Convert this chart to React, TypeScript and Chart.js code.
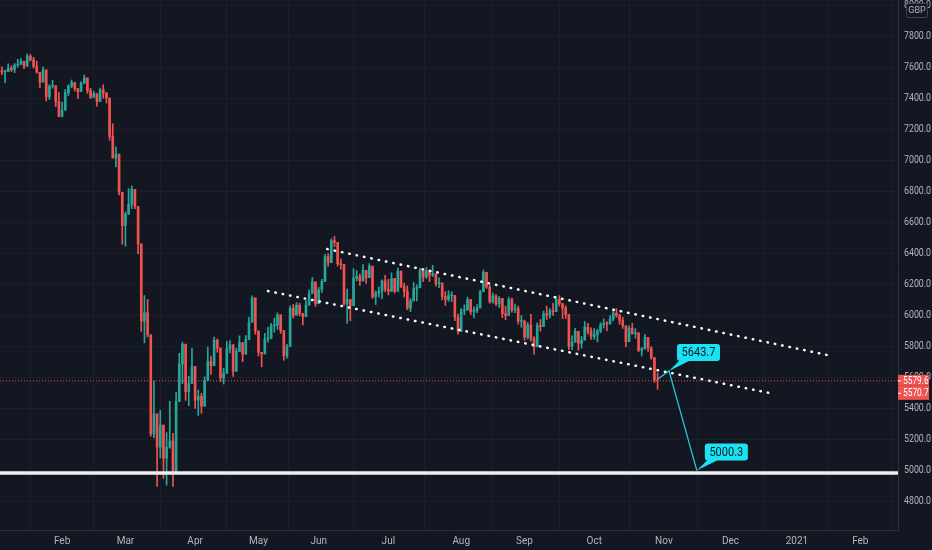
import * as React from 'react';
import { Chart, registerables } from 'chart.js';

Chart.register(...registerables);

// FTSE 100 daily bars from 2 Jan 2020: [open, high, low, close]
const candles: number[][] = [
  [7542, 7623, 7542, 7604], [7604, 7625, 7556, 7622], [7622, 7622, 7531, 7575], [7575, 7605, 7555, 7573],
  [7573, 7584, 7503, 7575], [7575, 7625, 7575, 7598], [7598, 7612, 7575, 7588], [7588, 7627, 7568, 7617],
  [7617, 7654, 7604, 7622], [7622, 7659, 7620, 7642], [7642, 7642, 7594, 7610], [7610, 7689, 7610, 7675],
  [7675, 7685, 7643, 7651], [7651, 7667, 7597, 7610], [7610, 7642, 7565, 7571], [7571, 7571, 7469, 7507],
  [7507, 7604, 7507, 7586], [7586, 7586, 7385, 7412], [7412, 7490, 7395, 7481], [7481, 7519, 7468, 7484],
  [7484, 7484, 7349, 7381], [7381, 7440, 7282, 7286],
  // Feb
  [7286, 7379, 7283, 7326], [7326, 7460, 7326, 7439], [7439, 7490, 7420, 7482], [7482, 7521, 7471, 7504],
  [7504, 7504, 7449, 7466], [7466, 7466, 7402, 7446], [7446, 7511, 7446, 7500], [7500, 7554, 7496, 7534],
  [7534, 7534, 7434, 7452], [7452, 7467, 7401, 7409], [7409, 7448, 7409, 7433], [7433, 7433, 7352, 7382],
  [7382, 7468, 7382, 7457], [7457, 7490, 7403, 7437], [7437, 7440, 7372, 7404], [7404, 7404, 7132, 7157],
  [7157, 7238, 7016, 7018], [7018, 7090, 6960, 7042], [7042, 7042, 6780, 6796], [6796, 6796, 6460, 6581],
  // Mar
  [6581, 6670, 6449, 6654], [6654, 6820, 6654, 6718], [6718, 6837, 6690, 6815], [6815, 6815, 6690, 6705],
  [6705, 6705, 6400, 6463], [6463, 6463, 5899, 5965], [5965, 6130, 5825, 6018], [6018, 6105, 5862, 5876],
  [5876, 5876, 5222, 5237], [5237, 5578, 5213, 5366], [5366, 5366, 4898, 5151], [5151, 5390, 5082, 5294],
  [5294, 5294, 4950, 5080], [5080, 5245, 4906, 5151], [5151, 5448, 5144, 5191], [5191, 5240, 4899, 4994],
  [4994, 5503, 4994, 5446], [5446, 5757, 5446, 5688], [5688, 5829, 5560, 5816], [5816, 5816, 5454, 5510],
  [5510, 5610, 5419, 5563], [5563, 5790, 5563, 5672],
  // Apr
  [5672, 5672, 5401, 5455], [5455, 5520, 5356, 5480], [5480, 5499, 5370, 5416], [5416, 5606, 5416, 5582],
  [5582, 5798, 5582, 5704], [5704, 5740, 5622, 5677], [5677, 5862, 5677, 5843], [5843, 5850, 5764, 5791],
  [5791, 5791, 5575, 5598], [5598, 5660, 5559, 5628], [5628, 5834, 5628, 5787], [5787, 5840, 5760, 5812],
  [5812, 5812, 5608, 5641], [5641, 5790, 5641, 5770], [5770, 5870, 5770, 5826], [5826, 5826, 5703, 5752],
  [5752, 5872, 5752, 5847], [5847, 5990, 5847, 5958], [5958, 6128, 5958, 6115], [6115, 6115, 5880, 5901],
  // May
  [5901, 5901, 5740, 5763], [5763, 5763, 5670, 5753], [5753, 5886, 5753, 5849], [5849, 5925, 5829, 5853],
  [5853, 5950, 5853, 5935], [5935, 5985, 5893, 5939], [5939, 6018, 5912, 6005], [6005, 6005, 5886, 5904],
  [5904, 5904, 5712, 5741], [5741, 5815, 5725, 5800], [5800, 6063, 5800, 6049], [6049, 6072, 5985, 6003],
  [6003, 6084, 6003, 6067], [6067, 6080, 5998, 6015], [6015, 6015, 5940, 5993], [5993, 6097, 5993, 6068],
  [6068, 6166, 6068, 6144], [6144, 6246, 6144, 6218], [6218, 6218, 6060, 6077],
  // Jun
  [6077, 6184, 6077, 6166], [6166, 6235, 6150, 6220], [6220, 6396, 6220, 6382], [6382, 6400, 6318, 6342],
  [6342, 6496, 6342, 6484], [6484, 6511, 6446, 6473], [6473, 6473, 6320, 6335], [6335, 6366, 6300, 6329],
  [6329, 6329, 6068, 6076], [6076, 6172, 5951, 6105], [6105, 6105, 5968, 6064], [6064, 6303, 6064, 6242],
  [6242, 6291, 6225, 6253], [6253, 6268, 6196, 6224], [6224, 6330, 6224, 6292], [6292, 6292, 6208, 6245],
  [6245, 6336, 6245, 6320], [6320, 6320, 6111, 6123], [6123, 6160, 6072, 6147], [6147, 6186, 6120, 6159],
  [6159, 6232, 6110, 6225], [6225, 6260, 6154, 6169],
  // Jul
  [6169, 6235, 6134, 6157], [6157, 6276, 6157, 6240], [6240, 6240, 6146, 6157], [6157, 6307, 6157, 6286],
  [6286, 6290, 6180, 6189], [6189, 6210, 6120, 6156], [6156, 6192, 6039, 6050], [6050, 6110, 6026, 6095],
  [6095, 6215, 6095, 6176], [6176, 6199, 6096, 6180], [6180, 6305, 6180, 6293], [6293, 6293, 6220, 6251],
  [6251, 6310, 6240, 6290], [6290, 6290, 6220, 6261], [6261, 6325, 6252, 6270], [6270, 6270, 6190, 6207],
  [6207, 6245, 6180, 6211], [6211, 6211, 6102, 6124], [6124, 6155, 6066, 6104], [6104, 6160, 6092, 6130],
  [6130, 6155, 6091, 6131], [6131, 6131, 5968, 5990], [5990, 6010, 5881, 5898],
  // Aug
  [5898, 6047, 5898, 6032], [6032, 6070, 6006, 6036], [6036, 6120, 6036, 6104], [6104, 6104, 6008, 6027],
  [6027, 6057, 5986, 6032], [6032, 6072, 6019, 6050], [6050, 6164, 6050, 6154], [6154, 6295, 6154, 6280],
  [6280, 6280, 6176, 6185], [6185, 6198, 6080, 6090], [6090, 6146, 6080, 6127], [6127, 6136, 6065, 6076],
  [6076, 6124, 6052, 6111], [6111, 6111, 5987, 6013], [6013, 6061, 5974, 6001], [6001, 6120, 6001, 6104],
  [6104, 6114, 6022, 6037], [6037, 6075, 6020, 6045], [6045, 6062, 5945, 5963], [5963, 6001, 5925, 5964],
  // Sep
  [5964, 5971, 5841, 5862], [5862, 5956, 5850, 5940], [5940, 6009, 5836, 5850], [5850, 5865, 5751, 5799],
  [5799, 5954, 5799, 5937], [5937, 5975, 5900, 5930], [5930, 6030, 5930, 6012], [6012, 6062, 5975, 6003],
  [6003, 6046, 5984, 6032], [6032, 6080, 6002, 6026], [6026, 6121, 6026, 6105], [6105, 6130, 6062, 6078],
  [6078, 6078, 5980, 6049], [6049, 6064, 5982, 6007], [6007, 6007, 5781, 5804], [5804, 5870, 5781, 5829],
  [5829, 5919, 5829, 5899], [5899, 5899, 5777, 5822], [5822, 5866, 5791, 5842], [5842, 5962, 5842, 5927],
  [5927, 5950, 5880, 5898], [5898, 5922, 5846, 5866],
  // Oct
  [5866, 5917, 5847, 5879], [5879, 5912, 5831, 5902], [5902, 5955, 5890, 5942], [5942, 5980, 5920, 5949],
  [5949, 5962, 5903, 5946], [5946, 6001, 5946, 5978], [5978, 6036, 5966, 6016], [6016, 6045, 5990, 6001],
  [6001, 6010, 5945, 5969], [5969, 5990, 5918, 5935], [5935, 5935, 5799, 5832], [5832, 5935, 5832, 5919],
  [5919, 5951, 5880, 5884], [5884, 5916, 5855, 5889], [5889, 5889, 5768, 5776], [5776, 5796, 5740, 5785],
  [5785, 5880, 5785, 5860], [5860, 5860, 5770, 5792], [5792, 5800, 5719, 5729], [5729, 5729, 5569, 5583],
  [5583, 5630, 5525, 5580],
];

// first trading bar of each month, and its label
const monthTicks = [22, 42, 64, 84, 103, 125, 148, 168, 190, 212, 233, 254, 274];
const monthLabels = ['Feb', 'Mar', 'Apr', 'May', 'Jun', 'Jul', 'Aug', 'Sep', 'Oct', 'Nov', 'Dec', '2021', 'Feb'];
const priceTicks = [4800, 5000, 5200, 5400, 5600, 5800, 6000, 6200, 6400, 6600, 6800, 7000, 7200, 7400, 7600, 7800, 8000];

// drawings
const upperChannel = [{ x: 105.7, y: 6430 }, { x: 265, y: 5740 }];
const lowerChannel = [{ x: 87, y: 6159 }, { x: 246.8, y: 5495 }];
const supportLevel = 4985;
const lastPrice = 5579.6;
const prevPrice = 5570.7;
const projection = [{ x: 210, y: 5590 }, { x: 213.6, y: 5643.7 }, { x: 222.4, y: 5000.3 }];

const X_MIN = 2.4;
const X_MAX = 285.9;
const UP = '#26a69a';
const DOWN = '#ef5350';
const BG = '#131722';
const GRID = '#1b1f2b';
const TEXT = '#b2b5be';
const CYAN = '#19e3f2';
const FONT = 'Roboto, sans-serif';

// tradingview's axis font is narrow, squeeze it a bit
const narrowText = (ctx: CanvasRenderingContext2D, text: string, x: number, y: number, sx: number) => {
  ctx.save();
  ctx.translate(x, y);
  ctx.scale(sx, 1);
  ctx.fillText(text, 0, 0);
  ctx.restore();
};

const overlay = {
  id: 'overlay',
  afterDraw(chart: any) {
    const { ctx, scales } = chart;
    const xs = scales.x;
    const ys = scales.y;
    const axisLeft = chart.chartArea.right;
    ctx.save();

    // price axis labels
    ctx.fillStyle = TEXT;
    ctx.font = '11px ' + FONT;
    ctx.textAlign = 'left';
    ctx.textBaseline = 'middle';
    priceTicks.forEach((v) => {
      narrowText(ctx, v.toFixed(1), axisLeft + 6, ys.getPixelForValue(v), 0.8);
    });

    // callouts
    [projection[1], projection[2]].forEach((p) => {
      const px = xs.getPixelForValue(p.x);
      const py = ys.getPixelForValue(p.y);
      const left = px + 8;
      const top = py - 27;
      const w = 43;
      const h = 17;
      ctx.fillStyle = CYAN;
      ctx.beginPath();
      ctx.moveTo(px, py);
      ctx.lineTo(left + 3, top + h - 1);
      ctx.lineTo(left + 14, top + h - 1);
      ctx.closePath();
      ctx.fill();
      ctx.beginPath();
      ctx.roundRect(left, top, w, h, 3);
      ctx.fill();
      ctx.fillStyle = BG;
      ctx.font = '12px ' + FONT;
      ctx.textAlign = 'center';
      ctx.textBaseline = 'middle';
      narrowText(ctx, p.y.toFixed(1), left + w / 2, top + h / 2 + 0.5, 0.92);
    });

    // price tags on the axis
    const y1 = ys.getPixelForValue(lastPrice);
    const tags = [
      { top: y1 - 6, h: 11, text: lastPrice.toFixed(1), color: DOWN },
      { top: y1 + 5, h: 14, text: prevPrice.toFixed(1), color: '#f05450' },
    ];
    tags.forEach((t) => {
      ctx.fillStyle = t.color;
      ctx.fillRect(axisLeft, t.top, 31, t.h);
      ctx.fillStyle = '#ffffff';
      ctx.fillRect(axisLeft, t.top + t.h / 2, 3, 1);
      ctx.font = '11px ' + FONT;
      ctx.textAlign = 'left';
      ctx.textBaseline = 'middle';
      narrowText(ctx, t.text, axisLeft + 5, t.top + t.h / 2 + 0.5, 0.76);
    });

    // currency box
    ctx.fillStyle = BG;
    ctx.strokeStyle = '#434651';
    ctx.lineWidth = 1;
    ctx.beginPath();
    ctx.roundRect(906.5, 3.5, 21, 14, 2);
    ctx.fill();
    ctx.stroke();
    ctx.fillStyle = TEXT;
    ctx.font = '9px ' + FONT;
    ctx.textAlign = 'center';
    ctx.textBaseline = 'middle';
    ctx.fillText('GBP', 917, 11);
    ctx.restore();
  },
};

function CandleChart() {
  const canvasRef = React.useRef<HTMLCanvasElement | null>(null);

  React.useEffect(() => {
    if (!canvasRef.current) return;

    const bodies = candles.map((c, i) => ({ x: i, y: [Math.min(c[0], c[3]), Math.max(c[0], c[3])] }));
    const wicks = candles.map((c, i) => ({ x: i, y: [c[2], c[1]] }));
    const colors = candles.map((c) => (c[3] >= c[0] ? UP : DOWN));
    const flat = (v: number) => [{ x: X_MIN, y: v }, { x: X_MAX, y: v }];
    const lineBase = { type: 'line' as const, pointRadius: 0, fill: false, order: 0 };

    const chart = new Chart(canvasRef.current, {
      type: 'bar',
      data: {
        datasets: [
          { data: wicks as any, backgroundColor: colors, barThickness: 1, order: 3, grouped: false },
          { data: bodies as any, backgroundColor: colors, barThickness: 2, minBarLength: 1, order: 2, grouped: false },
          { ...lineBase, data: flat(lastPrice), borderColor: DOWN, borderWidth: 1, borderDash: [1, 2] },
          { ...lineBase, data: flat(supportLevel), borderColor: '#f0f0f0', borderWidth: 3.5 },
          { ...lineBase, data: upperChannel, borderColor: '#ffffff', borderWidth: 2.5, borderDash: [0.5, 7], borderCapStyle: 'round' },
          { ...lineBase, data: lowerChannel, borderColor: '#ffffff', borderWidth: 2.5, borderDash: [0.5, 7], borderCapStyle: 'round' },
          { ...lineBase, data: projection, borderColor: '#26c6da', borderWidth: 1.3 },
        ] as any,
      },
      options: {
        animation: false,
        responsive: false,
        layout: { padding: 0 },
        plugins: { legend: { display: false }, tooltip: { enabled: false } },
        scales: {
          x: {
            type: 'linear',
            min: X_MIN,
            max: X_MAX,
            offset: false,
            afterBuildTicks: (s: any) => { s.ticks = monthTicks.map((v) => ({ value: v })); },
            afterFit: (s: any) => { s.height = 20; },
            ticks: {
              autoSkip: false,
              maxRotation: 0,
              color: TEXT,
              font: { family: FONT, size: 10 },
              padding: 5,
              callback: (_v: any, i: number) => monthLabels[i],
            },
            grid: { color: GRID, drawTicks: false },
            border: { color: '#2a2e39' },
          },
          y: {
            position: 'right',
            min: 4617,
            max: 8037,
            afterBuildTicks: (s: any) => { s.ticks = priceTicks.map((v) => ({ value: v })); },
            afterFit: (s: any) => { s.width = 34; },
            ticks: { display: false },
            grid: { color: GRID, drawTicks: false },
            border: { color: '#2a2e39' },
          },
        },
      },
      plugins: [overlay],
    });

    return () => chart.destroy();
  }, []);

  return <canvas ref={canvasRef} width={932} height={550} style={{ display: 'block', width: 932, height: 550 }} />;
}

export default function App() {
  return (
    <div style={{ width: 932, height: 550, background: BG }}>
      <style>{`body { margin: 0; background: ${BG}; }`}</style>
      <CandleChart />
    </div>
  );
}
